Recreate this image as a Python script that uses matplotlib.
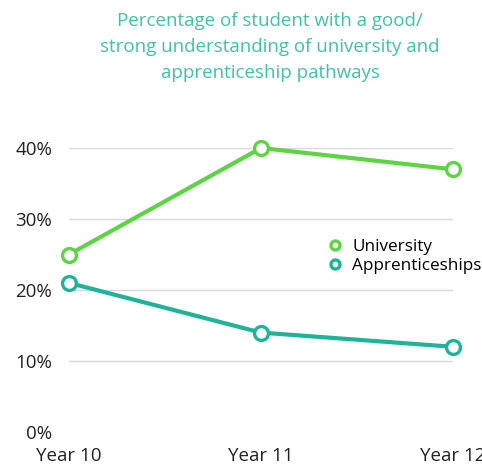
import matplotlib
matplotlib.use('Agg')
import matplotlib.pyplot as plt

years = ['Year 10', 'Year 11', 'Year 12']
university = [25, 40, 37]
apprenticeships = [21, 14, 12]
yticks = [0, 10, 20, 30, 40]

green = '#5dd443'
teal = '#1fb497'
title_col = '#3fc3a3'

plt.rcParams['font.family'] = ['Open Sans', 'DejaVu Sans']

fig = plt.figure(figsize=(4.82, 4.67), dpi=100)
ax = fig.add_axes([69 / 482, 35 / 467, 384 / 482, 284 / 467])

x = range(len(years))
ax.plot(x, university, color=green, lw=3, marker='o', ms=10, mfc='white',
        mec=green, mew=2.4, clip_on=False, zorder=3, label='University')
ax.plot(x, apprenticeships, color=teal, lw=3, marker='o', ms=10, mfc='white',
        mec=teal, mew=2.4, clip_on=False, zorder=3, label='Apprenticeships')

ax.set_xlim(0, 2)
ax.set_ylim(0, 40)
ax.set_yticks(yticks)
ax.set_yticklabels([f'{v}%' for v in yticks])
ax.set_xticks(list(x))
ax.set_xticklabels(years)
for v in yticks[1:]:
    ax.axhline(v, color='#d9d9d9', lw=1, zorder=1)
ax.tick_params(axis='both', length=0, labelsize=13.5, colors='#222222')
ax.tick_params(axis='y', pad=12)
ax.tick_params(axis='x', pad=11)
for s in ax.spines.values():
    s.set_visible(False)

leg = ax.legend(loc='upper left', bbox_to_anchor=(0.635, 0.735), frameon=False,
                fontsize=12.3, handlelength=0.8, handletextpad=0.6,
                labelspacing=0.2, markerscale=0.65)
for h in leg.get_lines():
    h.set_linestyle('')

fig.text(270 / 482, 1 - 47 / 467,
         'Percentage of student with a good/\nstrong understanding of university and\napprenticeship pathways',
         ha='center', va='center', color=title_col, fontsize=13.5, linespacing=1.58)

fig.savefig('out.png', dpi=100)
